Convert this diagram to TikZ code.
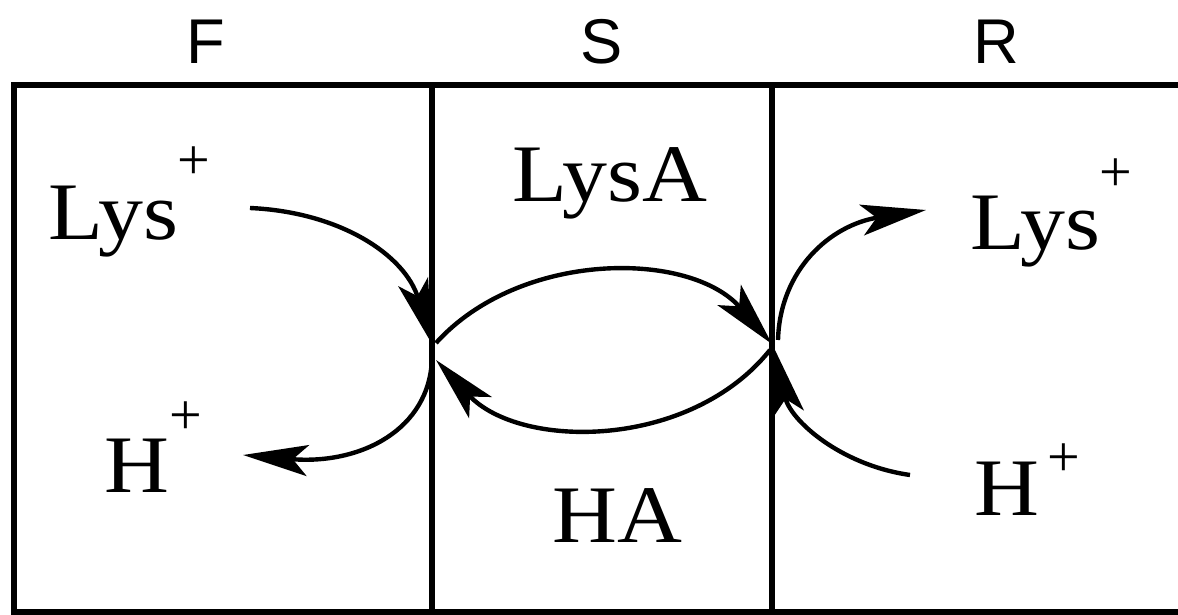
\documentclass[tikz,border=0pt]{standalone}
\usepackage{fontspec}
\setmainfont{Liberation Serif}
\newfontfamily\bigserif[FakeStretch=1.1]{Liberation Serif}
\newfontfamily\labsans{Liberation Sans}
\usetikzlibrary{arrows.meta}
\begin{document}
\begin{tikzpicture}[x=0.02cm,y=-0.02cm,
  frame/.style={line width=3.3pt},
  flow/.style={line width=2.5pt,-{Stealth[length=1.3cm,width=0.62cm,inset=0.3cm]}},
  big/.style={inner sep=0pt,anchor=base west,font=\bigserif\fontsize{46.5}{50}\selectfont},
  plus/.style={inner sep=0pt,anchor=center,font=\fontsize{33}{36}\selectfont},
  col/.style={inner sep=0pt,anchor=center,font=\labsans\fontsize{36}{40}\selectfont}]
\useasboundingbox (0,0) rectangle (1178,615);
\clip (0,0) rectangle (1178,615);
% frame
\draw[frame] (1190,85) -- (14,85) -- (14,612) -- (1190,612);
\draw[frame] (432,85) -- (432,612);
\draw[frame] (772,85) -- (772,612);
% column labels
\node[col] (F) at (206,42) {F};
\node[col] (S) at (602,42) {S};
\node[col] (R) at (996,42) {R};
% species
\node[big] (lysL) at (48,239) {Lys};
\node[plus] (lysLp) at (194,163) {+};
\node[big] (lysA) at (512,202) {LysA};
\node[big] (ha) at (552,542) {HA};
\node[big] (hL) at (104,492) {H};
\node[plus] (hLp) at (186,418) {+};
\node[big] (lysR) at (970,250) {Lys};
\node[plus] (lysRp) at (1116,175) {+};
\node[big] (hR) at (974,515) {H};
\node[plus] (hRp) at (1064,460) {+};
% connector ends
\coordinate (a1) at (250,208);
\coordinate (jL) at (432,344);
\coordinate (jLa) at (436,343);
\coordinate (jLb) at (436,360);
\coordinate (jLc) at (432,358);
\coordinate (jR) at (772,344);
\coordinate (jRa) at (770,350);
\coordinate (jRb) at (778,340);
\coordinate (jRc) at (775,350);
\coordinate (hLe) at (243,455);
\coordinate (lysRe) at (926,210);
\coordinate (hRs) at (910,475);
% arrows
\draw[flow] (a1) .. controls (340,212) and (405,255) .. (jL);
\draw[flow] (jLa) .. controls (520,250) and (690,250) .. (jR);
\draw[flow] (jRa) .. controls (690,450) and (520,450) .. (jLb);
\draw[flow] (jLc) .. controls (430,430) and (360,465) .. (hLe);
\draw[flow] (jRb) .. controls (780,270) and (830,225) .. (lysRe);
\draw[flow] (hRs) .. controls (840,465) and (790,420) .. (jRc);
\end{tikzpicture}
\end{document}
